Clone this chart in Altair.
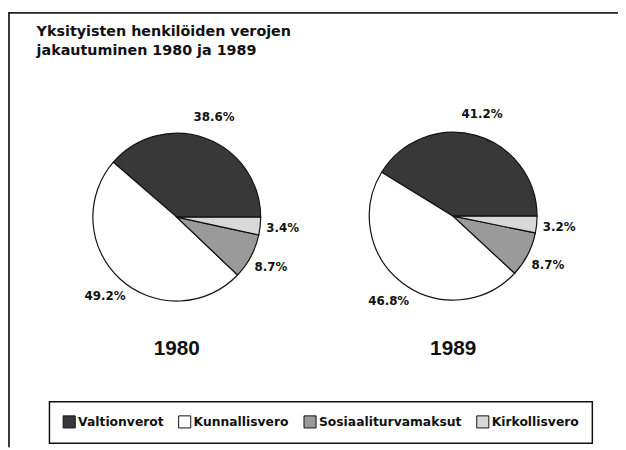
import math
import altair as alt
import pandas as pd

# ---- data ----
categories = ["Valtionverot", "Kunnallisvero", "Sosiaaliturvamaksut", "Kirkollisvero"]
stack_rank = [3, 2, 1, 0]          # clockwise drawing order from 3 o'clock
values_1980 = [38.6, 49.2, 8.7, 3.4]
values_1989 = [41.2, 46.8, 8.7, 3.2]
years = ["1980", "1989"]
title_lines = ["Yksityisten henkilöiden verojen", "jakautuminen 1980 ja 1989"]
colors = ["#383838", "#ffffff", "#9a9a9a", "#d8d8d8"]

rows = []
for yr, vals in zip(years, [values_1980, values_1989]):
    for c, r, v in zip(categories, stack_rank, vals):
        rows.append({"year": yr, "category": c, "rank": r, "value": v})
df = pd.DataFrame(rows)

W, H = 618, 442
centers = {"1980": (171, 209), "1989": (451, 208)}
R = 85

theta = alt.Theta("value:Q", stack=True,
                  scale=alt.Scale(range=[math.pi / 2, math.pi / 2 + 2 * math.pi]))
color = alt.Color("category:N",
                  scale=alt.Scale(domain=categories, range=colors),
                  legend=alt.Legend(title=None, orient="none", legendX=42, legendY=396,
                                    direction="horizontal"))

base = alt.Chart(df)
layers = []

# frame lines
frame_data = alt.Data(values=[{}])
layers.append(alt.Chart(frame_data).mark_rule(color="#222", strokeWidth=1.8).encode(
    x=alt.value(0), x2=alt.value(W), y=alt.value(2)))
layers.append(alt.Chart(frame_data).mark_rule(color="#222", strokeWidth=1.8).encode(
    x=alt.value(1), y=alt.value(2), y2=alt.value(H)))

# title
layers.append(alt.Chart(frame_data).mark_text(
    text=title_lines, align="left", baseline="alphabetic", lineHeight=20,
    font="DejaVu Sans", fontWeight="bold", fontSize=14.5, color="#111"
).encode(x=alt.value(29), y=alt.value(25)))

for yr in years:
    cx, cy = centers[yr]
    sub = base.transform_filter(alt.datum.year == yr)
    layers.append(sub.mark_arc(radius=R, stroke="#111", strokeWidth=1.2).encode(
        theta=theta, color=color, order=alt.Order("rank:Q"),
        x=alt.value(cx), y=alt.value(cy)))
    layers.append(sub.transform_calculate(
        label="format(datum.value, '.1f') + '%'"
    ).mark_text(radius=108, font="DejaVu Sans", fontWeight="bold", fontSize=12,
                color="#111").encode(
        theta=theta, text="label:N", order=alt.Order("rank:Q"),
        x=alt.value(cx), y=alt.value(cy)))
    layers.append(alt.Chart(alt.Data(values=[{"y": yr}])).mark_text(
        font="Liberation Sans", fontWeight="bold", fontSize=21, color="#111",
        baseline="middle").encode(
        text="y:N", x=alt.value(cx), y=alt.value(343)))

chart = alt.layer(*layers).properties(
    width=W, height=H, padding=0, autosize=alt.AutoSizeParams(type="none"),
    background="white"
).configure_view(stroke=None).configure_legend(
    strokeColor="#111", strokeWidth=1.5, padding=13,
    symbolType="square", symbolSize=150, symbolStrokeColor="#111",
    symbolStrokeWidth=1, symbolOpacity=1,
    labelFont="DejaVu Sans", labelFontWeight="bold", labelFontSize=12.5,
    labelColor="#111", labelOffset=2, columnPadding=12, fillColor="white"
)

chart.save("out.html", embed_options={"renderer": "svg", "actions": False})
